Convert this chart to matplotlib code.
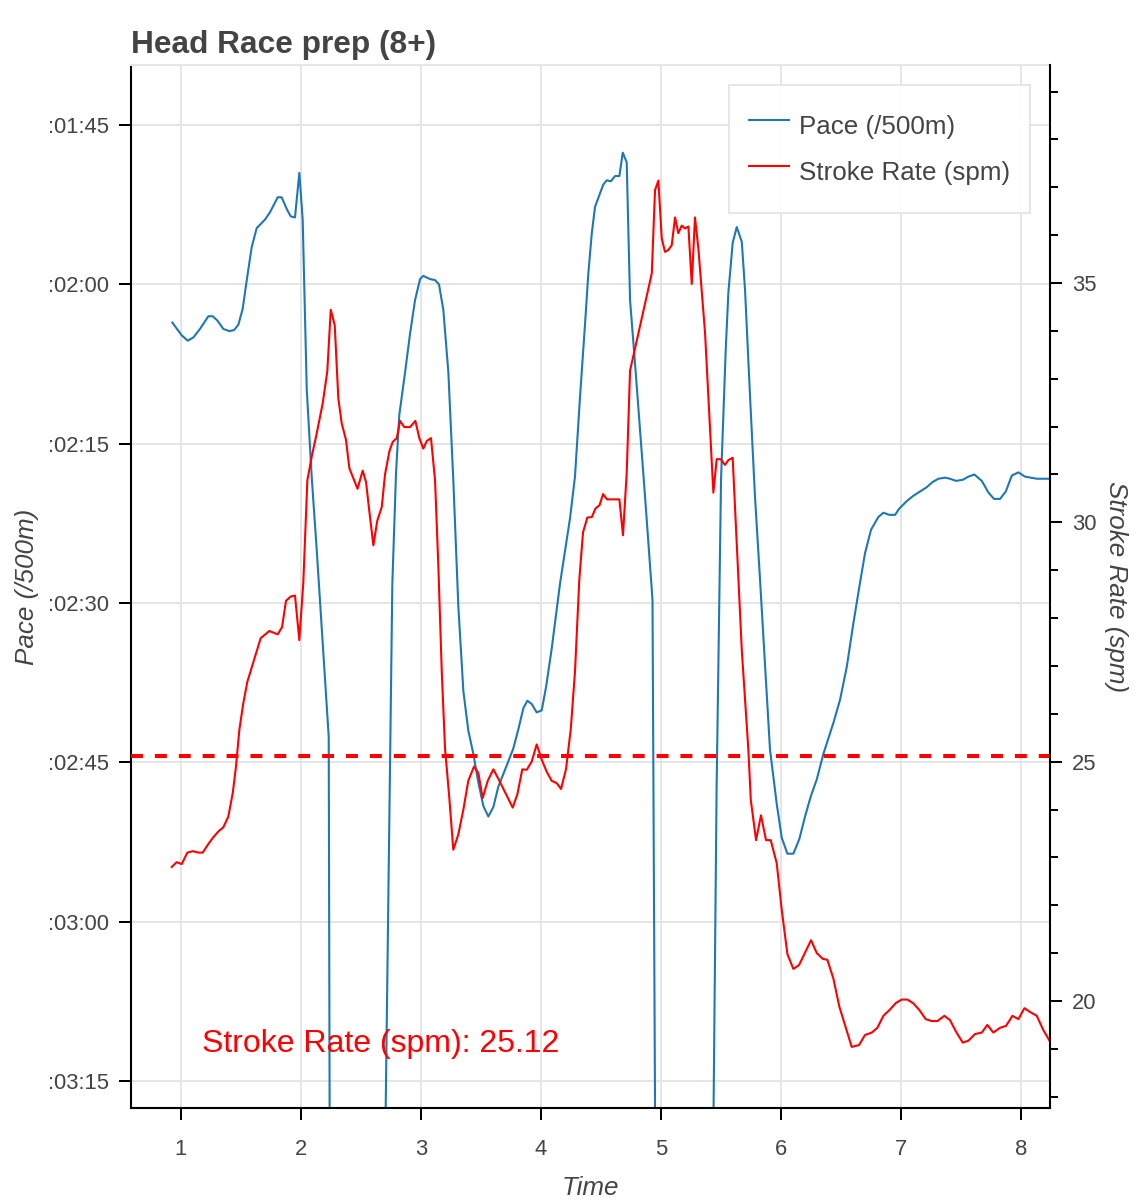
import matplotlib
matplotlib.use("Agg")
import matplotlib.pyplot as plt
from matplotlib.ticker import FixedLocator, FuncFormatter, MultipleLocator

plt.rcParams['font.family'] = ['Liberation Sans', 'DejaVu Sans']
plt.rcParams['lines.scale_dashes'] = False

# pace samples: time (min) and pace (seconds per 500m)
pace_time = [0.928, 1.006, 1.056, 1.103, 1.158, 1.228, 1.264, 1.303, 1.353, 1.403,
             1.442, 1.478, 1.514, 1.548, 1.589, 1.631, 1.700, 1.742, 1.806, 1.839,
             1.881, 1.914, 1.950, 1.986, 2.014, 2.048, 2.089, 2.131, 2.231, 2.250,
             2.658, 2.761, 2.792, 2.819, 2.867, 2.908, 2.950, 2.992, 3.019, 3.075,
             3.117, 3.150, 3.186, 3.228, 3.269, 3.311, 3.353, 3.394, 3.436, 3.478,
             3.519, 3.561, 3.603, 3.644, 3.714, 3.769, 3.811, 3.853, 3.886, 3.922,
             3.964, 4.006, 4.042, 4.089, 4.158, 4.242, 4.283, 4.325, 4.367, 4.394,
             4.423, 4.450, 4.486, 4.519, 4.548, 4.581, 4.617, 4.653, 4.681, 4.714,
             4.742, 4.783, 4.825, 4.867, 4.929, 4.967, 5.417, 5.463, 5.500, 5.539,
             5.561, 5.597, 5.631, 5.673, 5.700, 5.742, 5.783, 5.825, 5.908, 5.964,
             6.006, 6.053, 6.103, 6.153, 6.200, 6.248, 6.298, 6.353, 6.436, 6.492,
             6.548, 6.603, 6.658, 6.700, 6.750, 6.811, 6.853, 6.903, 6.950, 6.986,
             7.048, 7.103, 7.158, 7.214, 7.264, 7.311, 7.367, 7.408, 7.458, 7.514,
             7.561, 7.611, 7.673, 7.728, 7.775, 7.825, 7.873, 7.923, 7.978, 8.033,
             8.131, 8.242]
pace_sec = [123.6, 124.8, 125.3, 125.0, 124.2, 123.0, 123.0, 123.4, 124.2, 124.4,
            124.3, 123.8, 122.3, 119.6, 116.5, 114.7, 113.9, 113.2, 111.8, 111.8,
            112.9, 113.6, 113.7, 109.5, 113.9, 129.9, 138.1, 145.0, 162.6, 252.0,
            240.0, 148.2, 137.7, 132.3, 128.3, 124.7, 121.5, 119.5, 119.2, 119.5,
            119.6, 120.0, 122.4, 128.3, 138.4, 150.3, 158.3, 162.0, 164.2, 166.9,
            169.1, 170.1, 169.2, 167.3, 165.3, 163.7, 161.9, 159.9, 159.2, 159.5,
            160.3, 160.1, 157.9, 154.3, 148.2, 142.0, 138.1, 130.6, 123.7, 119.0,
            115.2, 112.7, 111.6, 110.6, 110.2, 110.3, 109.8, 109.8, 107.6, 108.5,
            121.5, 127.4, 133.7, 140.0, 149.7, 235.8, 222.5, 167.6, 138.4, 126.2,
            120.8, 116.1, 114.6, 116.0, 120.5, 130.6, 140.0, 147.8, 163.8, 168.9,
            172.1, 173.6, 173.6, 172.2, 170.1, 168.2, 166.6, 164.2, 161.3, 159.1,
            156.0, 151.9, 148.1, 145.3, 143.1, 141.9, 141.5, 141.7, 141.7, 141.1,
            140.4, 139.9, 139.5, 139.1, 138.6, 138.3, 138.2, 138.3, 138.5, 138.4,
            138.1, 137.9, 138.5, 139.6, 140.2, 140.2, 139.5, 138.0, 137.7, 138.1,
            138.3, 138.3]

# stroke rate samples: time (min) and strokes per minute
sr_time = [0.923, 0.964, 1.006, 1.053, 1.098, 1.144, 1.181, 1.228, 1.269, 1.311,
           1.353, 1.394, 1.431, 1.458, 1.486, 1.519, 1.553, 1.608, 1.664, 1.736,
           1.806, 1.842, 1.875, 1.914, 1.950, 1.986, 2.019, 2.053, 2.089, 2.131,
           2.181, 2.219, 2.248, 2.281, 2.311, 2.339, 2.375, 2.403, 2.442, 2.471,
           2.514, 2.542, 2.569, 2.603, 2.636, 2.673, 2.700, 2.736, 2.764, 2.798,
           2.825, 2.861, 2.908, 2.953, 2.986, 3.019, 3.048, 3.083, 3.117, 3.144,
           3.173, 3.200, 3.236, 3.269, 3.311, 3.353, 3.394, 3.442, 3.478, 3.514,
           3.556, 3.603, 3.653, 3.708, 3.764, 3.803, 3.844, 3.881, 3.922, 3.964,
           4.006, 4.047, 4.089, 4.131, 4.167, 4.208, 4.248, 4.283, 4.319, 4.350,
           4.386, 4.423, 4.454, 4.488, 4.517, 4.550, 4.603, 4.653, 4.683, 4.714,
           4.742, 4.923, 4.950, 4.978, 5.006, 5.033, 5.061, 5.089, 5.117, 5.144,
           5.173, 5.200, 5.228, 5.256, 5.283, 5.311, 5.367, 5.436, 5.464, 5.497,
           5.533, 5.561, 5.597, 5.673, 5.728, 5.748, 5.792, 5.833, 5.875, 5.914,
           5.964, 6.006, 6.053, 6.103, 6.150, 6.200, 6.250, 6.298, 6.348, 6.386,
           6.436, 6.486, 6.533, 6.589, 6.650, 6.700, 6.756, 6.803, 6.853, 6.903,
           6.958, 7.006, 7.053, 7.103, 7.153, 7.206, 7.256, 7.303, 7.361, 7.408,
           7.458, 7.514, 7.561, 7.617, 7.673, 7.719, 7.769, 7.825, 7.875, 7.928,
           7.978, 8.028, 8.075, 8.131, 8.186, 8.242]
sr_spm = [22.80, 22.90, 22.86, 23.10, 23.13, 23.10, 23.10, 23.28, 23.42, 23.54,
          23.63, 23.85, 24.34, 24.89, 25.66, 26.22, 26.67, 27.12, 27.58, 27.73,
          27.66, 27.81, 28.36, 28.45, 28.47, 27.54, 28.73, 30.88, 31.37, 31.86,
          32.49, 33.15, 34.44, 34.12, 32.59, 32.07, 31.72, 31.13, 30.88, 30.70,
          31.08, 30.84, 30.24, 29.52, 30.04, 30.32, 31.00, 31.48, 31.68, 31.76,
          32.12, 31.99, 31.99, 32.12, 31.76, 31.54, 31.70, 31.76, 30.88, 29.12,
          26.88, 25.28, 24.24, 23.16, 23.48, 24.00, 24.60, 24.90, 24.76, 24.24,
          24.60, 24.84, 24.60, 24.32, 24.04, 24.32, 24.84, 24.83, 25.00, 25.36,
          25.04, 24.79, 24.60, 24.55, 24.43, 24.84, 25.68, 26.88, 28.80, 29.79,
          30.10, 30.11, 30.29, 30.36, 30.59, 30.48, 30.48, 30.48, 29.73, 31.03,
          33.17, 35.20, 36.94, 37.14, 35.93, 35.65, 35.69, 35.79, 36.37, 36.04,
          36.20, 36.14, 36.18, 34.98, 36.37, 35.73, 33.95, 30.62, 31.32, 31.32,
          31.20, 31.30, 31.35, 27.33, 25.24, 24.20, 23.36, 23.88, 23.36, 23.36,
          22.88, 21.90, 20.98, 20.67, 20.75, 21.01, 21.27, 21.00, 20.88, 20.86,
          20.47, 19.88, 19.50, 19.04, 19.08, 19.29, 19.34, 19.44, 19.69, 19.81,
          19.96, 20.03, 20.03, 19.95, 19.81, 19.62, 19.58, 19.58, 19.69, 19.60,
          19.36, 19.13, 19.17, 19.31, 19.34, 19.50, 19.34, 19.44, 19.48, 19.69,
          19.62, 19.85, 19.77, 19.69, 19.39, 19.15]

avg_spm = 25.12
pace_ticks = [105, 120, 135, 150, 165, 180, 195]
time_ticks = [1, 2, 3, 4, 5, 6, 7, 8]

text_col = '#444444'
grid_col = '#e5e5e5'


def fmt_pace(v, pos):
    v = int(round(v))
    return ':%02d:%02d' % (v // 60, v % 60)


fig = plt.figure(figsize=(11.4, 12), dpi=100)
ax = fig.add_axes([0.1149, 0.0767, 0.8062, 0.8691])
ax2 = ax.twinx()

l1, = ax.plot(pace_time, pace_sec, color='#1f77b4', lw=1.5, label='Pace (/500m)')
l2, = ax2.plot(sr_time, sr_spm, color='red', lw=1.5, label='Stroke Rate (spm)')
ax2.axhline(avg_spm, color='red', lw=2.9, dashes=[8.6, 8.6])

ax.set_xlim(0.5833, 8.2417)
ax.set_ylim(197.54, 99.35)
ax2.set_ylim(17.765, 39.554)

ax.xaxis.set_major_locator(FixedLocator(time_ticks))
ax.yaxis.set_major_locator(FixedLocator(pace_ticks))
ax.yaxis.set_major_formatter(FuncFormatter(fmt_pace))
ax2.yaxis.set_major_locator(MultipleLocator(5))
ax2.yaxis.set_minor_locator(MultipleLocator(1))

ax.grid(True, color=grid_col, lw=1.44)
ax.set_axisbelow(True)

for s in ['left', 'bottom']:
    ax.spines[s].set_linewidth(1.5)
    ax.spines[s].set_color('black')
ax.spines['top'].set_color(grid_col)
ax.spines['top'].set_linewidth(1.44)
ax.spines['right'].set_visible(False)
for s in ['left', 'bottom', 'top']:
    ax2.spines[s].set_visible(False)
ax2.spines['right'].set_linewidth(1.5)

ax.tick_params(axis='both', which='major', direction='out', length=8.6, width=1.44,
               labelsize=15.8, labelcolor=text_col, pad=7)
ax.tick_params(axis='x', pad=13.5)
ax2.tick_params(axis='y', which='major', direction='out', length=8.6, width=1.44,
                labelsize=15.8, labelcolor=text_col, pad=7)
ax2.tick_params(axis='y', which='minor', direction='out', length=5.8, width=1.44)

ax.set_xlabel('Time', fontsize=18.7, style='italic', color=text_col, labelpad=12)
ax.set_ylabel('Pace (/500m)', fontsize=18.7, style='italic', color=text_col, labelpad=6.5)
ax2.set_ylabel('Stroke Rate (spm)', fontsize=18.7, style='italic', color=text_col,
               rotation=270, labelpad=23)

ax.set_title('Head Race prep (8+)', loc='left', fontsize=22.8, fontweight='bold',
             color=text_col, pad=9)

ax2.text(0.0773, 0.0537, 'Stroke Rate (spm): %.2f' % avg_spm, transform=ax2.transAxes,
         color='red', fontsize=23, va='baseline', ha='left')

leg = ax2.legend(handles=[l1, l2], loc='upper right', bbox_to_anchor=(0.9782, 0.9808),
                 borderaxespad=0, fontsize=18.7, fancybox=False, framealpha=0.95,
                 edgecolor=grid_col, handlelength=1.54, handletextpad=0.38,
                 handleheight=2.1, borderpad=0.77, labelspacing=0.17)
leg.get_frame().set_linewidth(1.44)
for t in leg.get_texts():
    t.set_color(text_col)

plt.savefig('out.png', dpi=100)
